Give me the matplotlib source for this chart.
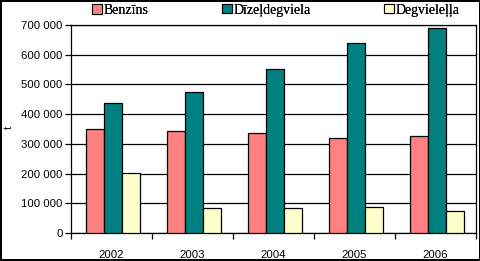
import matplotlib
matplotlib.use("Agg")
import matplotlib.pyplot as plt
import numpy as np
from matplotlib.ticker import FuncFormatter, FixedLocator
from matplotlib.patches import Patch

years = ["2002", "2003", "2004", "2005", "2006"]
series_names = ["Benzīns", "Dīzeļdegviela", "Degvieleļļa"]
benzins = [349000, 342000, 335000, 319000, 325000]
dizel = [436000, 473000, 551000, 638000, 689000]
degviela = [201000, 83000, 83000, 86000, 73000]
colors = ["#FF8080", "#008080", "#FFFFCC"]

fig = plt.figure(figsize=(4.81, 2.61), dpi=100)
fig.patch.set_facecolor("white")
fig.patch.set_edgecolor("black")
fig.patch.set_linewidth(1.5)

ax = fig.add_axes([71/481, 1-233/261, (476-71)/481, (233-25)/261])
x = np.arange(len(years))
w = 0.222
for i, (vals, c) in enumerate(zip([benzins, dizel, degviela], colors)):
    ax.bar(x + (i-1)*w + 0.02, vals, width=w, color=c, edgecolor="black",
           linewidth=0.9, zorder=3, label=series_names[i])

ax.set_xlim(-0.5, len(years)-0.5)
ax.set_ylim(0, 700000)
ax.set_yticks(np.arange(0, 700001, 100000))
ax.yaxis.set_major_formatter(FuncFormatter(lambda v, p: f"{int(v):,}".replace(",", " ")))
ax.grid(axis="y", color="black", linewidth=0.9, zorder=1)
ax.set_xticks(x)
ax.set_xticklabels(years)
ax.xaxis.set_minor_locator(FixedLocator(np.arange(-0.5, len(years), 1)))
ax.tick_params(axis="x", which="major", length=0, pad=12)
ax.tick_params(axis="x", which="minor", length=4, width=0.9, direction="out")
ax.tick_params(axis="y", length=4, width=0.9, direction="out", pad=2)
for lab in ax.get_xticklabels() + ax.get_yticklabels():
    lab.set_fontfamily("Liberation Sans")
    lab.set_fontsize(8.2)
for s in ax.spines.values():
    s.set_linewidth(0.9)
    s.set_color("black")

fig.text(9/481, 1-127/261, "t", rotation=90, ha="center", va="center",
         fontsize=8, fontfamily="Liberation Sans")

legend_x = [92, 222, 384]
for name, c, lx in zip(series_names, colors, legend_x):
    h = Patch(facecolor=c, edgecolor="black", linewidth=0.8)
    leg = fig.legend([h], [name], loc="center left",
                     bbox_to_anchor=(lx/481, 1-10/261), frameon=False,
                     handlelength=0.7, handleheight=0.7, handletextpad=0.15,
                     borderaxespad=0, borderpad=0,
                     prop={"family": "Liberation Serif", "size": 10})
    fig.add_artist(leg)

fig.savefig("out.png", dpi=100)
